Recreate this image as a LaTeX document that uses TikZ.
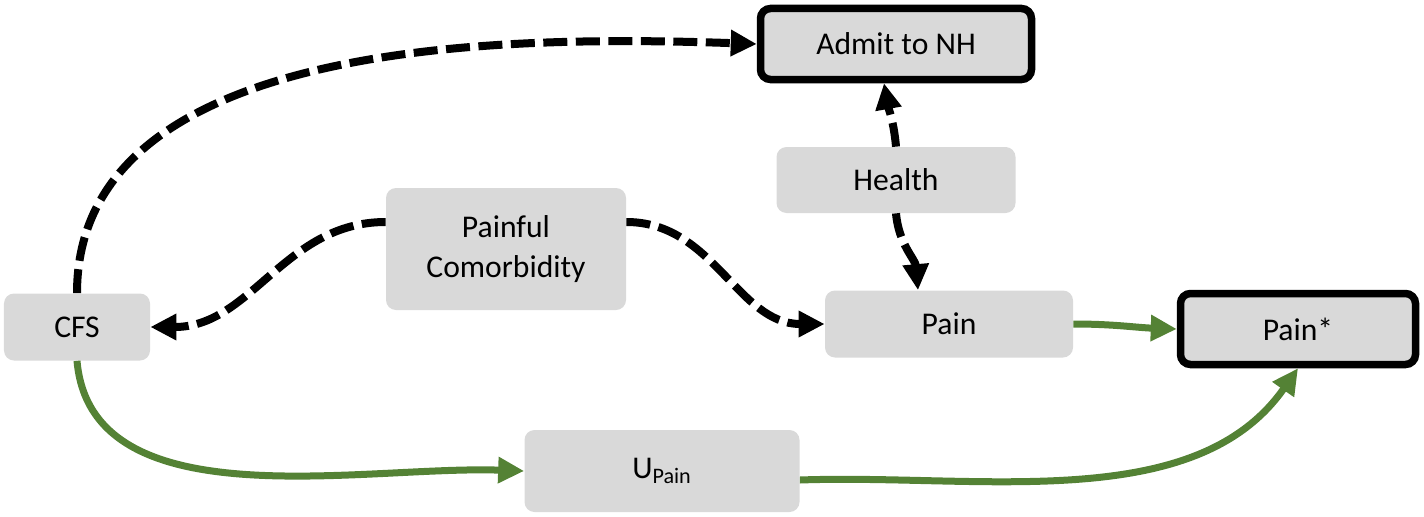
\documentclass[tikz,border=0pt]{standalone}
\usepackage{fontspec}
\setmainfont{Carlito}
\usetikzlibrary{arrows.meta,positioning,calc}
\definecolor{effectgreen}{HTML}{548235}
\tikzset{
    box color/.style={fill=black!15},
    box/.style={box color,rounded corners=2mm,inner sep=0pt,align=center},
    outcome/.style={box,draw=black,line width=1.5mm},
    tip/.style={-{Triangle[length=5.2mm,width=5mm]}},
    dasharr/.style={tip,black,line width=1.6mm,dash pattern=on 4.8mm off 1.7mm},
    greenarr/.style={tip,effectgreen,line width=1.4mm},
    every node/.style={font=\fontsize{18}{23}\selectfont},
}

\begin{document}
\begin{tikzpicture}[x=0.2mm,y=-0.2mm]
    \useasboundingbox (0,0) rectangle (1424,516);
    % boxes
    \node[outcome,minimum width=54.2mm,minimum height=14.2mm] (nh) at (896,44) {Admit to NH};
    \node[box,minimum width=47.8mm,minimum height=13.2mm] (health) at (896,180) {Health};
    \node[box,minimum width=48mm,minimum height=24.4mm] (pc) at (506,249) {Painful\\Comorbidity};
    \node[box,minimum width=29.2mm,minimum height=13.4mm] (cfs) at (77,327) {CFS};
    \node[box,minimum width=49.6mm,minimum height=13.4mm] (pain) at (949,324) {Pain};
    \node[outcome,minimum width=47mm,minimum height=14.2mm] (ps) at (1298,329) {Pain*};
    \node[box,minimum width=55mm,minimum height=16.4mm] (up) at (662,471) {U\textsubscript{Pain}};
    % dashed paths
    \draw[dasharr] (cfs.north) to[out=90,in=178,looseness=0.9] (nh.west);
    \draw[dasharr] ([yshift=5.4mm]pc.west) to[out=180,in=0] (cfs.east);
    \draw[dasharr] ([yshift=5.4mm]pc.east) to[out=0,in=180] (pain.west);
    \draw[dasharr] (health.south) to[out=-85,in=95] ([xshift=-6.2mm]pain.north);
    \draw[dasharr] (health.north) to[out=95,in=-80] ([xshift=-2.4mm]nh.south);
    % green paths
    \draw[greenarr] (pain.east) to[out=0,in=178] (ps.west);
    \draw[greenarr] (cfs.south) to[out=-85,in=178,looseness=0.9] (up.west);
    \draw[greenarr] ([yshift=-1.8mm]up.east) to[out=2,in=-125,looseness=0.9] (ps.south);
\end{tikzpicture}
\end{document}
